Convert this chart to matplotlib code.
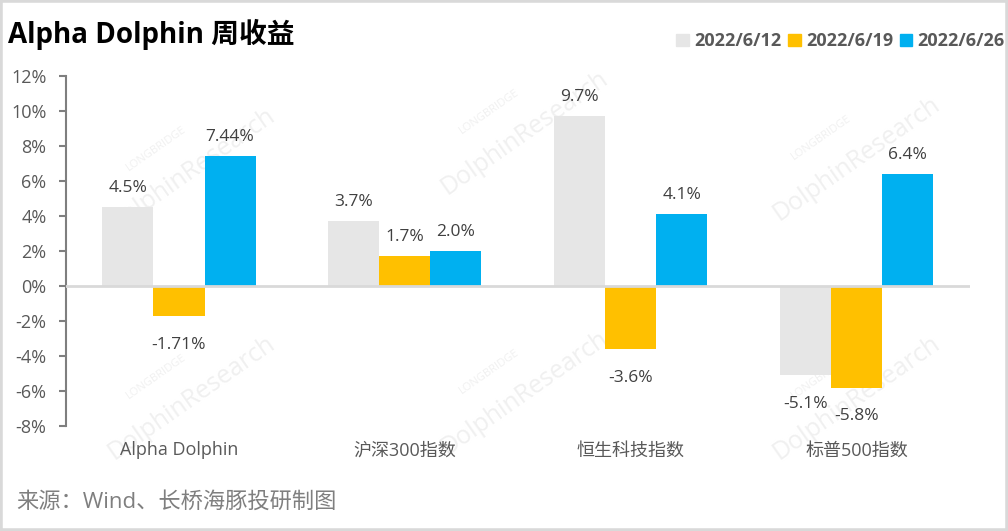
import matplotlib.pyplot as plt
import numpy as np
from matplotlib.patches import Rectangle, Patch

plt.rcParams['font.family'] = ['Open Sans', 'Noto Sans CJK SC', 'DejaVu Sans']

# data
categories = ['Alpha Dolphin', '沪深300指数', '恒生科技指数', '标普500指数']
series_names = ['2022/6/12', '2022/6/19', '2022/6/26']
v_0612 = [4.5, 3.7, 9.7, -5.1]
v_0619 = [-1.71, 1.7, -3.6, -5.8]
v_0626 = [7.44, 2.0, 4.1, 6.4]
lab_0612 = ['4.5%', '3.7%', '9.7%', '-5.1%']
lab_0619 = ['-1.71%', '1.7%', '-3.6%', '-5.8%']
lab_0626 = ['7.44%', '2.0%', '4.1%', '6.4%']
colors = ['#E6E6E6', '#FFC000', '#00B0F0']

fig = plt.figure(figsize=(10.08, 5.31), dpi=100)
fig.patches.append(Rectangle((0, 0), 1, 1, transform=fig.transFigure,
                             fill=False, edgecolor='#D9D9D9', linewidth=4))
ax = fig.add_axes([0.0655, 0.1977, 0.8965, 0.6593])

# watermark (behind everything)
wm_pos = [(0.18, 0.70), (0.51, 0.77), (0.84, 0.72), (0.18, 0.27), (0.51, 0.28), (0.84, 0.27)]
for (x, y) in wm_pos:
    fig.text(x - 0.025, y + 0.02, 'LONGBRIDGE', fontsize=8, color='#F0F0F0',
             rotation=35, ha='center', va='center', zorder=-1)
    fig.text(x + 0.01, y - 0.02, 'DolphinResearch', fontsize=18, color='#F0F0F0',
             rotation=35, ha='center', va='center', zorder=-1)

x = np.arange(len(categories))
w = 0.226
all_vals = [v_0612, v_0619, v_0626]
all_labs = [lab_0612, lab_0619, lab_0626]
for k in range(3):
    bars = ax.bar(x + (k - 1) * w, all_vals[k], width=w, color=colors[k], zorder=2)
    for b, v, t in zip(bars, all_vals[k], all_labs[k]):
        if v >= 0:
            ax.annotate(t, (b.get_x() + w / 2, v), xytext=(0, 8), textcoords='offset points',
                        ha='center', va='bottom', fontsize=12.5, color='#404040')
        else:
            ax.annotate(t, (b.get_x() + w / 2, v), xytext=(0, -15), textcoords='offset points',
                        ha='center', va='top', fontsize=12.5, color='#404040')

ax.axhline(0, color='#D9D9D9', linewidth=2, zorder=3)
ax.set_xlim(-0.5, 3.5)
ax.set_ylim(-8, 12)
ax.set_yticks(np.arange(-8, 13, 2))
ax.set_yticklabels([f'{t}%' for t in range(-8, 13, 2)])
ax.set_xticks(x)
ax.set_xticklabels(categories)
ax.tick_params(axis='y', colors='#7F7F7F', labelcolor='#595959', labelsize=13,
               length=5, width=1.5, direction='out', pad=9)
ax.tick_params(axis='x', length=0, labelcolor='#595959', labelsize=13, pad=11)
for s in ['top', 'right', 'bottom']:
    ax.spines[s].set_visible(False)
ax.spines['left'].set_color('#7F7F7F')
ax.spines['left'].set_linewidth(1.5)
ax.patch.set_alpha(0)

fig.text(0.008, 0.935, 'Alpha Dolphin 周收益', fontsize=20, fontweight='bold',
         color='black', ha='left', va='center')
handles = [Patch(color=c) for c in colors]
leg = fig.legend(handles, series_names, loc='center right', bbox_to_anchor=(1.004, 0.922),
                 ncol=3, frameon=False, handlelength=0.7, handleheight=0.7,
                 handletextpad=0.3, columnspacing=0.35, fontsize=13,
                 borderpad=0.2, borderaxespad=0.2)
for t in leg.get_texts():
    t.set_fontweight('bold')
    t.set_color('#595959')
fig.text(0.016, 0.055, '来源：Wind、长桥海豚投研制图', fontsize=16, color='#7F7F7F',
         ha='left', va='center')

fig.savefig('out.png', dpi=100)
